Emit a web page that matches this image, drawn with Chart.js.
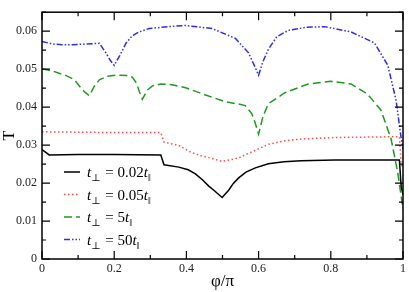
<!DOCTYPE html>
<html>
<head>
<meta charset="utf-8">
<script src="https://cdn.jsdelivr.net/npm/chart.js@4.4.1/dist/chart.umd.min.js"></script>
<style>
  html, body { margin: 0; padding: 0; background: #fff; }
  #wrap { width: 409px; height: 292px; }
</style>
</head>
<body>
<div id="wrap"><canvas id="chart"></canvas></div>
<script>
// phi/pi positions and transmission T
const phiA = [0, 0.02, 0.1, 0.2, 0.329, 0.338, 0.379, 0.405, 0.425, 0.445, 0.462, 0.476, 0.499, 0.517, 0.53, 0.544, 0.565, 0.591, 0.627, 0.67, 0.718, 0.811, 0.981, 0.99, 0.995, 1];
const tA   = [0.0288, 0.0274, 0.0275, 0.0275, 0.0274, 0.0248, 0.0242, 0.0235, 0.0224, 0.0208, 0.0192, 0.0181, 0.0162, 0.0181, 0.0199, 0.0213, 0.0229, 0.0240, 0.0251, 0.0256, 0.0259, 0.0261, 0.0261, 0.0261, 0.019, 0.017];

const phiB = [0, 0.1, 0.2, 0.329, 0.338, 0.379, 0.415, 0.44, 0.462, 0.499, 0.544, 0.581, 0.627, 0.67, 0.718, 0.811, 0.98, 0.99, 0.995, 1];
const tB   = [0.0335, 0.0334, 0.0333, 0.0333, 0.0308, 0.0299, 0.0280, 0.0272, 0.0267, 0.0257, 0.0266, 0.0282, 0.0302, 0.0311, 0.0316, 0.0320, 0.0322, 0.0322, 0.025, 0.024];

const phiC = [0, 0.03, 0.067, 0.09, 0.104, 0.118, 0.131, 0.145, 0.159, 0.18, 0.205, 0.235, 0.25, 0.262, 0.27, 0.278, 0.292, 0.306, 0.329, 0.36, 0.398, 0.453, 0.508, 0.545, 0.563, 0.581, 0.59, 0.6, 0.612, 0.627, 0.673, 0.737, 0.8, 0.856, 0.902, 0.939, 0.967, 0.985, 1];
const tC   = [0.0501, 0.0495, 0.0483, 0.0472, 0.0455, 0.0440, 0.0430, 0.0455, 0.0472, 0.0481, 0.0484, 0.0483, 0.0479, 0.0463, 0.0440, 0.0421, 0.0445, 0.0456, 0.0461, 0.0459, 0.0451, 0.0432, 0.0414, 0.0408, 0.0404, 0.0383, 0.0360, 0.0329, 0.0375, 0.0409, 0.0438, 0.0461, 0.0468, 0.0461, 0.0434, 0.0392, 0.0316, 0.0230, 0.0131];

const phiD = [0, 0.03, 0.067, 0.12, 0.159, 0.177, 0.19, 0.2, 0.215, 0.233, 0.25, 0.269, 0.297, 0.35, 0.398, 0.471, 0.536, 0.572, 0.588, 0.6, 0.612, 0.627, 0.65, 0.682, 0.73, 0.783, 0.856, 0.921, 0.958, 0.981, 0.994, 1];
const tD   = [0.0573, 0.0566, 0.0564, 0.0566, 0.0568, 0.0543, 0.0522, 0.0510, 0.0535, 0.0569, 0.0588, 0.0598, 0.0607, 0.0612, 0.0615, 0.0607, 0.0581, 0.0543, 0.0510, 0.0484, 0.0520, 0.0552, 0.0585, 0.0602, 0.0610, 0.0612, 0.0598, 0.0569, 0.0510, 0.0417, 0.0324, 0.029];

const coefs = ['0.02', '0.05', '5', '50'];
const xTicks = [0, 0.2, 0.4, 0.6, 0.8, 1];
const yTicks = [0, 0.01, 0.02, 0.03, 0.04, 0.05, 0.06];

const serif = '"Liberation Serif", "DejaVu Serif", serif';

function pts(xs, ys) {
    return xs.map((x, i) => ({ x: x, y: ys[i] }));
}

const styles = [
    { color: '#000000', dash: [] },
    { color: '#ff4a4a', dash: [1.5, 2.5] },
    { color: '#1e9a1e', dash: [8, 4] },
    { color: '#2a2aff', dash: [6, 2, 1.5, 2, 1.5, 2] }
];
const series = [pts(phiA, tA), pts(phiB, tB), pts(phiC, tC), pts(phiD, tD)];

// frame, inward ticks on all sides, and the legend
const framePlugin = {
    id: 'frame',
    afterDatasetsDraw(chart) {
        const ctx = chart.ctx;
        const a = chart.chartArea;
        const xs = chart.scales.x, ys = chart.scales.y;
        ctx.save();
        ctx.strokeStyle = '#000';
        ctx.lineWidth = 1.5;
        ctx.setLineDash([]);
        ctx.strokeRect(a.left, a.top, a.right - a.left, a.bottom - a.top);

        ctx.lineWidth = 1.2;
        ctx.beginPath();
        for (let k = 0; k <= 10; k++) {
            const v = k / 10;
            const len = k % 2 === 0 ? 8 : 4;
            const px = xs.getPixelForValue(v);
            ctx.moveTo(px, a.bottom); ctx.lineTo(px, a.bottom - len);
            ctx.moveTo(px, a.top); ctx.lineTo(px, a.top + len);
        }
        for (let k = 0; k <= 13; k++) {
            const v = k * 0.005;
            const len = k % 2 === 0 ? 8 : 4;
            const py = ys.getPixelForValue(v);
            ctx.moveTo(a.left, py); ctx.lineTo(a.left + len, py);
            ctx.moveTo(a.right, py); ctx.lineTo(a.right - len, py);
        }
        ctx.stroke();

        // legend
        const lx = 64, tx = 87;
        const rows = [172, 194.5, 217, 239.5];
        ctx.textBaseline = 'alphabetic';
        coefs.forEach((c, i) => {
            const y = rows[i];
            ctx.strokeStyle = styles[i].color;
            ctx.lineWidth = 1.5;
            ctx.setLineDash(styles[i].dash);
            ctx.beginPath();
            ctx.moveTo(lx, y); ctx.lineTo(lx + 16, y);
            ctx.stroke();
            ctx.setLineDash([]);

            ctx.fillStyle = '#000';
            let x = tx;
            const base = y + 5;
            ctx.font = 'italic 15px ' + serif;
            ctx.fillText('t', x, base); x += ctx.measureText('t').width;
            ctx.font = '10px ' + serif;
            ctx.fillText('\u22A5', x, base + 4); x += ctx.measureText('\u22A5').width + 1;
            ctx.font = '15px ' + serif;
            const mid = ' = ' + c;
            ctx.fillText(mid, x, base); x += ctx.measureText(mid).width;
            ctx.font = 'italic 15px ' + serif;
            ctx.fillText('t', x, base); x += ctx.measureText('t').width;
            ctx.font = '10px ' + serif;
            ctx.fillText('\u2016', x, base + 4);
        });
        ctx.restore();
    }
};

new Chart(document.getElementById('chart'), {
    type: 'line',
    data: {
        datasets: series.map((d, i) => ({
            label: 't\u22A5 = ' + coefs[i] + 't\u2016',
            data: d,
            borderColor: styles[i].color,
            borderDash: styles[i].dash,
            borderWidth: 1.5,
            pointRadius: 0,
            tension: 0,
            fill: false
        }))
    },
    options: {
        responsive: true,
        maintainAspectRatio: false,
        animation: false,
        layout: { padding: { top: 1, right: 4, left: 0, bottom: 0 } },
        plugins: {
            legend: { display: false },
            tooltip: { enabled: false }
        },
        scales: {
            x: {
                type: 'linear',
                min: 0,
                max: 1,
                afterBuildTicks: s => { s.ticks = xTicks.map(v => ({ value: v })); },
                afterFit: s => { s.height = 33; },
                grid: { display: false, drawTicks: false },
                border: { display: false },
                ticks: {
                    padding: 3,
                    color: '#222',
                    font: { family: serif, size: 12 },
                    maxRotation: 0,
                    callback: v => String(v)
                },
                title: {
                    display: true,
                    text: '\u03C6/\u03C0',
                    color: '#000',
                    padding: 0,
                    font: { family: serif, size: 17 }
                }
            },
            y: {
                type: 'linear',
                min: 0,
                max: 0.065,
                afterBuildTicks: s => { s.ticks = yTicks.map(v => ({ value: v })); },
                afterFit: s => { s.width = 42; },
                grid: { display: false, drawTicks: false },
                border: { display: false },
                ticks: {
                    padding: 5,
                    color: '#222',
                    font: { family: serif, size: 12 },
                    callback: v => String(Math.round(v * 100) / 100)
                },
                title: {
                    display: true,
                    text: 'T',
                    color: '#000',
                    padding: 0,
                    font: { family: serif, size: 16 }
                }
            }
        }
    },
    plugins: [framePlugin]
});
</script>
</body>
</html>
